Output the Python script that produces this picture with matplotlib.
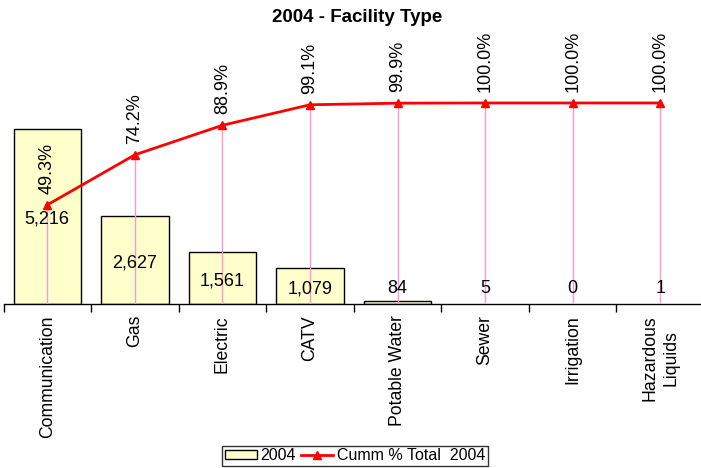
import numpy as np
import matplotlib.pyplot as plt

plt.rcParams['font.family'] = ['Liberation Sans', 'DejaVu Sans']

categories = ['Communication', 'Gas', 'Electric', 'CATV', 'Potable Water',
              'Sewer', 'Irrigation', 'Hazardous\nLiquids']
counts = [5216, 2627, 1561, 1079, 84, 5, 0, 1]
cumm_pct = [49.3, 74.2, 88.9, 99.1, 99.9, 100.0, 100.0, 100.0]

x = np.arange(len(categories))

fig = plt.figure(figsize=(7.01, 4.68), dpi=100)
ax = fig.add_axes([3.5 / 701, 164 / 468, 700.5 / 701, 274 / 468])

# bars thinner than a pixel get no outline (Excel draws nothing there)
edge_w = [1 if v > 20 else 0 for v in counts]
ax.bar(x, counts, width=0.77, color='#ffffcc', edgecolor='black',
       linewidth=edge_w, zorder=2)
ax.set_xlim(-0.5, len(categories) - 0.5)
ax.set_ylim(0, 8166)
ax.set_yticks([])
for s in ['left', 'right', 'top']:
    ax.spines[s].set_visible(False)
ax.spines['bottom'].set_linewidth(1)

ax.set_xticks(x)
ax.set_xticklabels(categories, rotation=90, fontsize=12.7, va='top',
                   ha='center', linespacing=1.3)
ax.tick_params(axis='x', which='major', length=0, pad=8)
ax.set_xticks(np.arange(-0.5, len(categories), 1), minor=True)
ax.tick_params(axis='x', which='minor', length=6, width=1, direction='out')

ax2 = ax.twinx()
ax2.set_ylim(0, 136.3)
ax2.set_yticks([])
for s in ['left', 'right', 'top', 'bottom']:
    ax2.spines[s].set_visible(False)
ax2.vlines(x, 0, cumm_pct, color='#ff99cc', linewidth=1, zorder=1)
line, = ax2.plot(x, cumm_pct, color='red', linewidth=2, marker='^',
                 markersize=6, zorder=3)
for xi, p in zip(x, cumm_pct):
    ax2.annotate(f'{p:.1f}%', (xi, p), xytext=(0, 8), textcoords='offset points',
                 rotation=90, ha='center', va='bottom', fontsize=13)

# value labels sit on top of the pink drop lines
for xi, v in zip(x, counts):
    ax2.annotate(f'{v:,}', (xi, max(v / 2, 540)), xycoords=ax.transData,
                 xytext=(0, -2), textcoords='offset points',
                 ha='center', va='center', fontsize=13, zorder=5)

fig.text(357 / 701, 1 - 18 / 468, '2004 - Facility Type', ha='center',
         va='center', fontsize=13.5, fontweight='bold')

bar_handle = plt.Rectangle((0, 0), 1, 1, facecolor='#ffffcc', edgecolor='black')
leg = fig.legend([bar_handle, line], ['2004', 'Cumm % Total  2004'],
                 loc='center', bbox_to_anchor=(355 / 701, 12 / 468), ncol=2,
                 fontsize=11.5, frameon=True, fancybox=False, edgecolor='black',
                 handlelength=2.0, handletextpad=0.25, columnspacing=0.3,
                 borderpad=0.15, handleheight=0.5, borderaxespad=0)
leg.get_frame().set_linewidth(1)

fig.savefig('out.png', dpi=100)
